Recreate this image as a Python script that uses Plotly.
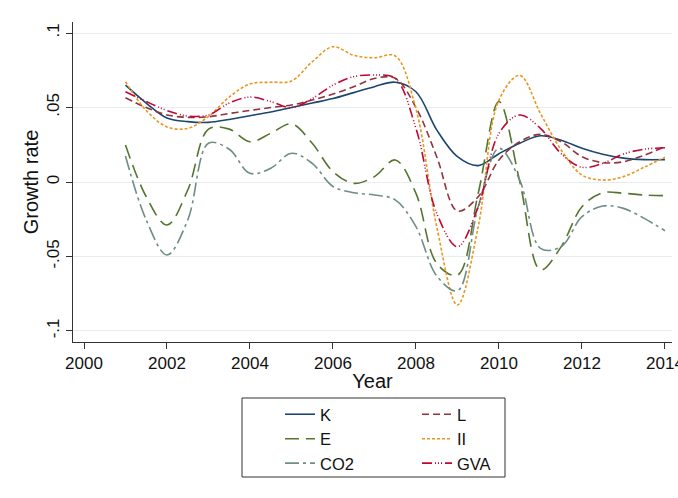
import plotly.graph_objects as go

years = [2001 + 0.5 * i for i in range(27)]

K = [0.065, 0.053, 0.043, 0.0405, 0.040, 0.042, 0.0445, 0.047, 0.050, 0.053, 0.056, 0.060,
     0.064, 0.067, 0.0606, 0.035, 0.017, 0.011, 0.019, 0.026, 0.031, 0.028, 0.0226, 0.0186,
     0.016, 0.015, 0.015]
L = [0.0566, 0.050, 0.045, 0.0434, 0.0438, 0.046, 0.048, 0.050, 0.0517, 0.055, 0.059, 0.064,
     0.0695, 0.0696, 0.050, 0.017, -0.0195, -0.0099, 0.0148, 0.027, 0.032, 0.027, 0.017, 0.013,
     0.0136, 0.018, 0.0237]
E = [0.0248, -0.0099, -0.0289, -0.0054, 0.0355, 0.0355, 0.027, 0.0327, 0.039, 0.026, 0.007, -0.0009,
     0.0036, 0.0148, -0.0076, -0.0546, -0.0625, -0.0076, 0.054, 0.0005, -0.059, -0.0434, -0.0166,
     -0.0072, -0.0076, -0.0087, -0.0092]
II = [0.0673, 0.048, 0.037, 0.036, 0.044, 0.057, 0.0658, 0.067, 0.0678, 0.0807, 0.0908, 0.085,
      0.0834, 0.0846, 0.049, -0.030, -0.0826, -0.030, 0.055, 0.0715, 0.046, 0.0215, 0.0047, 0.0013,
      0.0036, 0.0099, 0.0166]
CO2 = [0.0174, -0.0255, -0.049, -0.0255, 0.026, 0.022, 0.0058, 0.0092, 0.0193, 0.0125, -0.003,
       -0.0072, -0.0087, -0.012, -0.030, -0.063, -0.073, -0.0166, 0.0226, 0.0013, -0.0445, -0.0434,
       -0.0233, -0.0161, -0.0177, -0.0244, -0.0327]
GVA = [0.0606, 0.054, 0.048, 0.0443, 0.045, 0.053, 0.057, 0.054, 0.050, 0.056, 0.065, 0.0707,
       0.0718, 0.0696, 0.036, -0.021, -0.0434, -0.0166, 0.0327, 0.045, 0.036, 0.019, 0.0099,
       0.0125, 0.0188, 0.022, 0.023]

series = [
    ("K", K, "#1a476f", "solid", "legend"),
    ("L", L, "#90353b", "7px,4px", "legend2"),
    ("E", E, "#55752f", "14px,7px", "legend"),
    ("II", II, "#e8961e", "3px,2px", "legend2"),
    ("CO2", CO2, "#6e8e84", "14px,4px,3px,4px", "legend"),
    ("GVA", GVA, "#c10534", "10px,3px,1px,2px,1px,2px,1px,3px", "legend2"),
]

y_ticks = [-0.1, -0.05, 0, 0.05, 0.1]
y_tick_labels = ["-.1", "-.05", "0", ".05", ".1"]
x_ticks = list(range(2000, 2015, 2))

fig = go.Figure()
for name, vals, color, dash, leg in series:
    fig.add_trace(go.Scatter(
        x=years, y=vals, name=name, mode="lines",
        line=dict(color=color, width=1.6, dash=dash, shape="spline", smoothing=1.0),
        legend=leg,
    ))

font = dict(family="Liberation Sans, Arial, sans-serif", size=17, color="#111")
PW = 599.0

fig.update_layout(
    width=678, height=498,
    margin=dict(l=73, r=6, t=22, b=156, autoexpand=False),
    paper_bgcolor="white", plot_bgcolor="white",
    font=font,
    xaxis=dict(
        range=[1999.735, 2014.17], tickvals=x_ticks, ticks="outside", ticklen=6,
        tickcolor="#333", showline=True, linecolor="#333", linewidth=1,
        showgrid=False, zeroline=False, title=dict(text="Year", standoff=1),
        automargin=False, ticklabeloverflow="allow",
    ),
    yaxis=dict(
        range=[-0.1074, 0.1074], tickvals=y_ticks, ticktext=y_tick_labels,
        tickangle=-90, ticks="outside", ticklen=6, tickcolor="#333",
        showline=True, linecolor="#333", linewidth=1,
        showgrid=True, gridcolor="#e8ecee", gridwidth=1, zeroline=False,
        title=dict(text="Growth rate", standoff=0), automargin=False,
        ticklabeloverflow="allow",
    ),
    legend=dict(orientation="v", x=(280 - 73) / PW, y=(342 - 397) / 320,
                xanchor="left", yanchor="top", bgcolor="rgba(0,0,0,0)",
                font=dict(size=16.5)),
    legend2=dict(orientation="v", x=(417 - 73) / PW, y=(342 - 397) / 320,
                 xanchor="left", yanchor="top", bgcolor="rgba(0,0,0,0)",
                 font=dict(size=16.5)),
    shapes=[dict(type="rect", xref="paper", yref="paper",
                 x0=(242 - 73) / PW, x1=(505 - 73) / PW,
                 y0=(342 - 398) / 320, y1=(342 - 477) / 320,
                 line=dict(color="#333", width=1))],
)

fig.write_html("out.html", config={"displayModeBar": False},
               post_script="document.body.style.margin='0';")
